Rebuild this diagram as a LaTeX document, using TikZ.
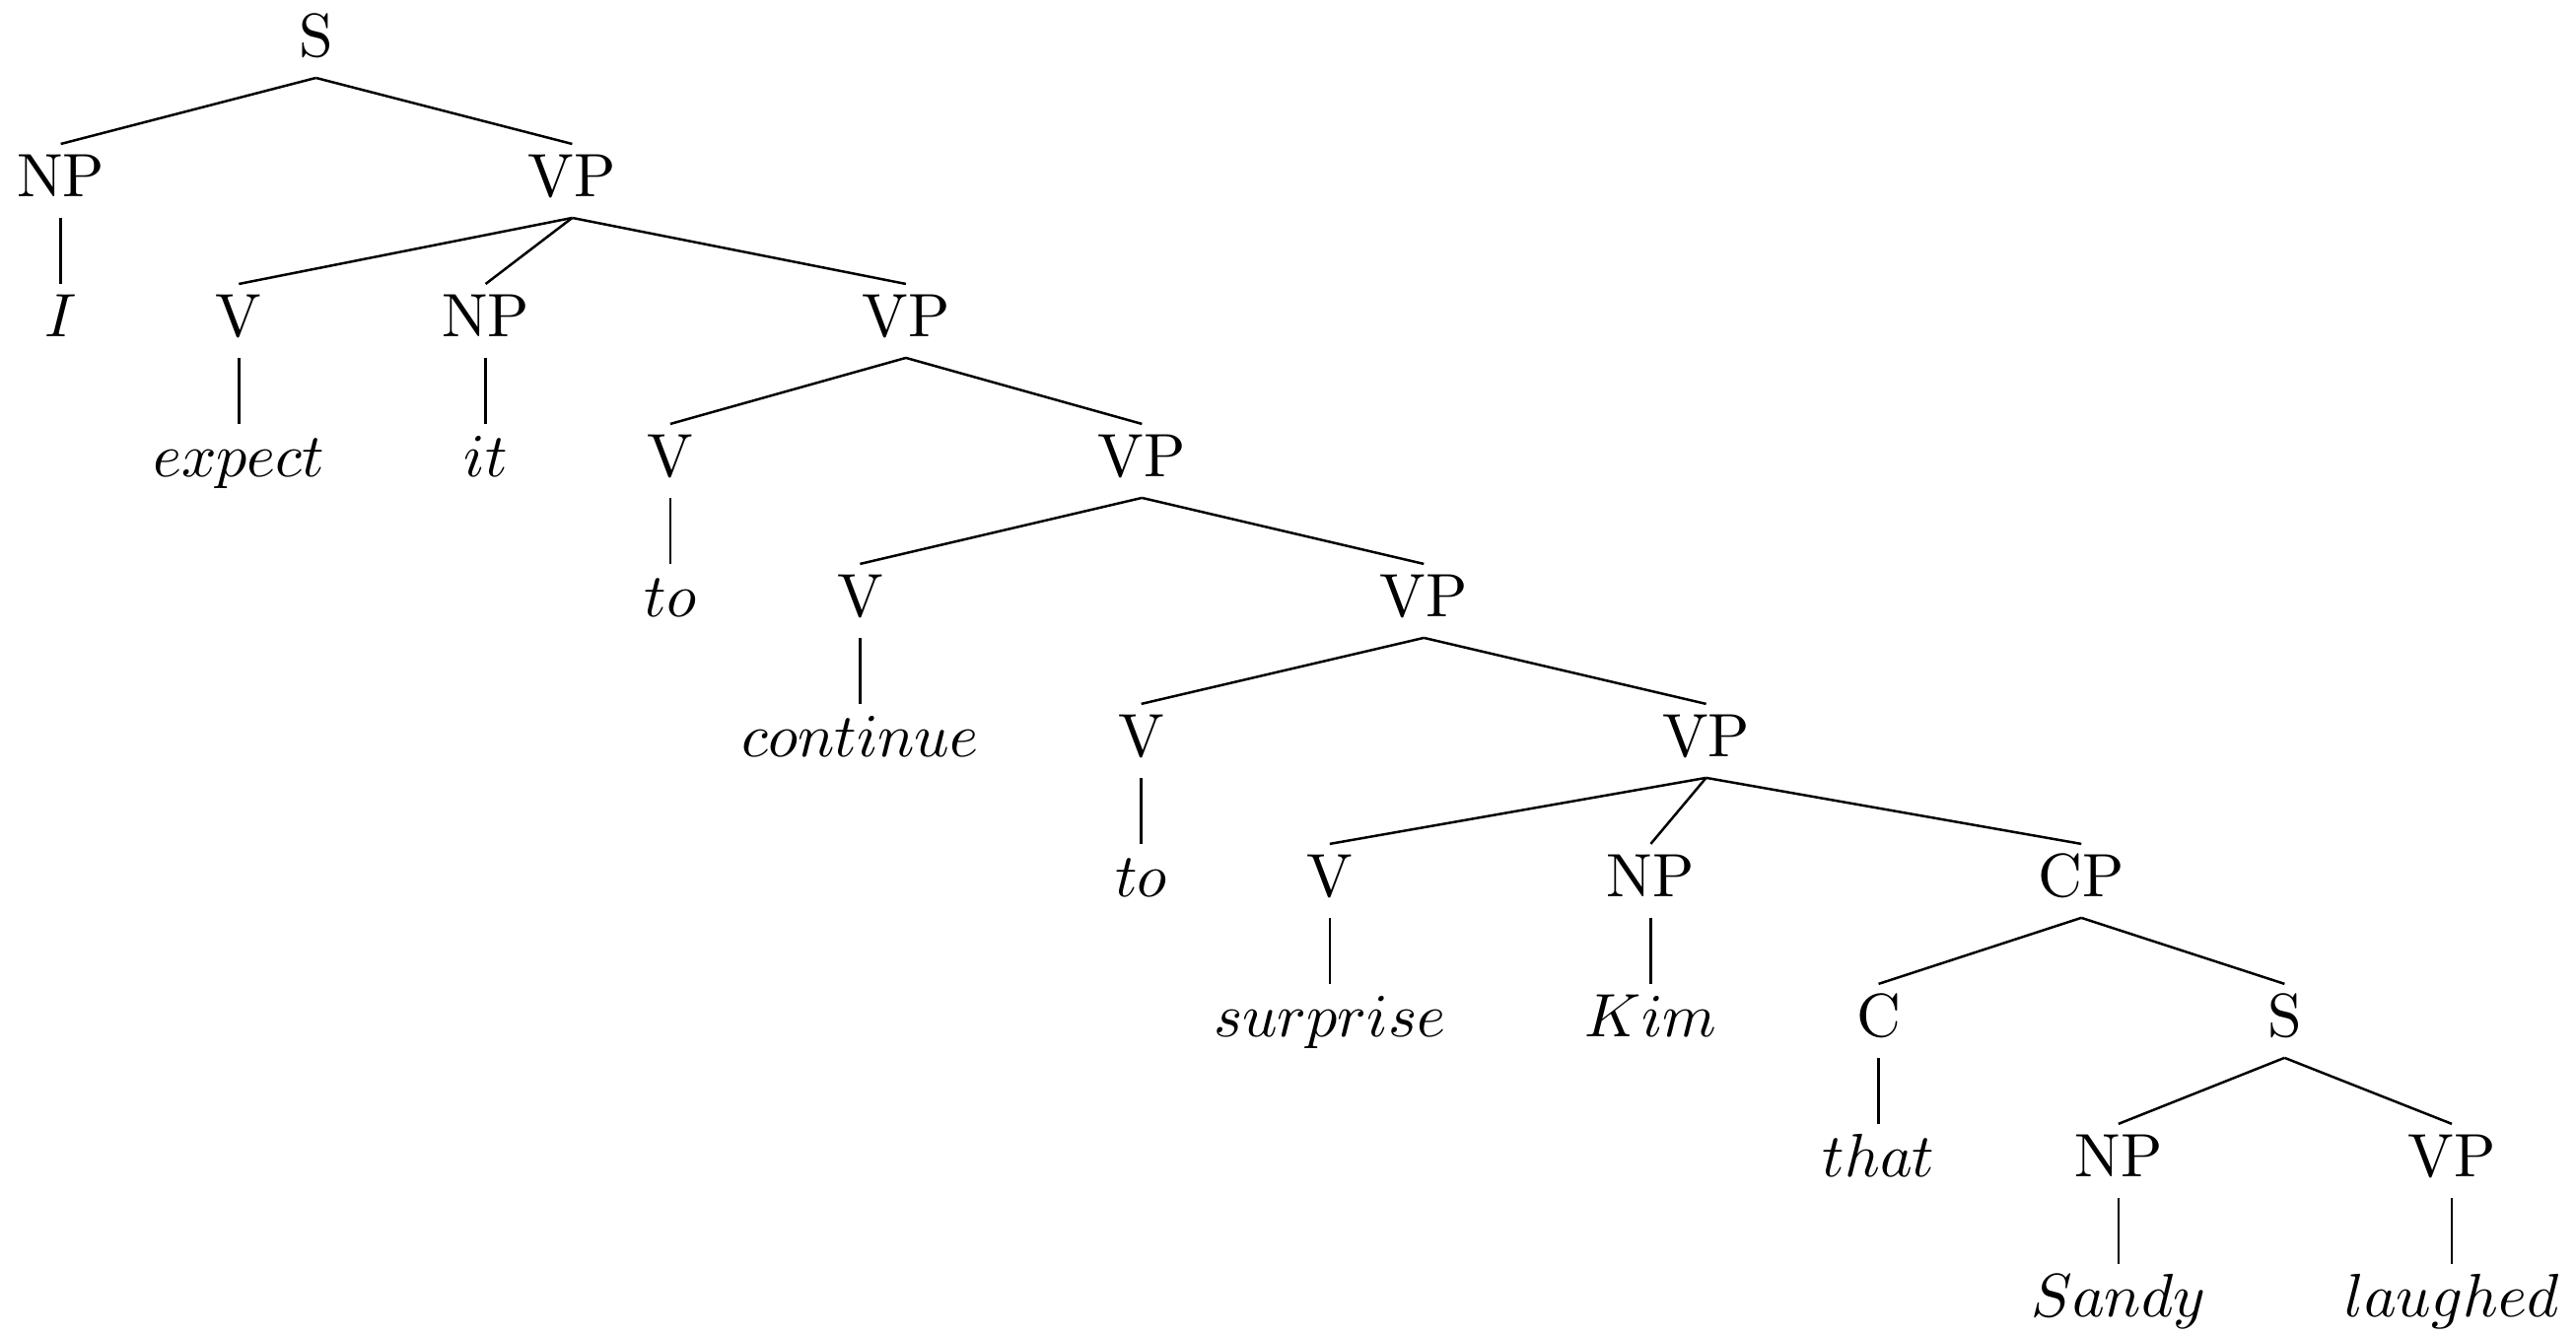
\documentclass[tikz,border=0pt]{standalone}
\begin{document}
\begin{tikzpicture}[x=0.2681pt,y=-0.2681pt,
  lbl/.style={inner sep=0pt,outer sep=0pt,anchor=base,text height=8.66pt,text depth=3.40pt},
  br/.style={line width=0.4pt}]
\useasboundingbox (0,0) rectangle (1568,813);
% levels: baseline = 34.7 + 85.2k
\node[lbl] (S)   at (192.3,34.7) {S};
\node[lbl] (NP1) at (37,119.9) {NP};
\node[lbl] (VP1) at (348.3,119.9) {VP};
\node[lbl] (I)   at (37,205.1) {$I$};
\node[lbl] (V1)  at (145.4,205.1) {V};
\node[lbl] (NP2) at (295.6,205.1) {NP};
\node[lbl] (VP2) at (551.4,205.1) {VP};
\node[lbl] (expect) at (145.4,290.3) {$expect$};
\node[lbl] (it)  at (295.6,290.3) {$it$};
\node[lbl] (V2)  at (408,290.3) {V};
\node[lbl] (VP3) at (695.1,290.3) {VP};
\node[lbl] (to1) at (408,375.5) {$to$};
\node[lbl] (V3)  at (523.5,375.5) {V};
\node[lbl] (VP4) at (866.7,375.5) {VP};
\node[lbl] (continue) at (523.5,460.7) {$continue$};
\node[lbl] (V4)  at (694.7,460.7) {V};
\node[lbl] (VP5) at (1038.5,460.7) {VP};
\node[lbl] (to2) at (694.7,545.9) {$to$};
\node[lbl] (V5)  at (809.4,545.9) {V};
\node[lbl] (NP3) at (1004.8,545.9) {NP};
\node[lbl] (CP)  at (1266.9,545.9) {CP};
\node[lbl] (surprise) at (809.4,631.1) {$surprise$};
\node[lbl] (Kim) at (1004.8,631.1) {$Kim$};
\node[lbl] (C)   at (1143.5,631.1) {C};
\node[lbl] (S2)  at (1390.6,631.1) {S};
\node[lbl] (that) at (1143.5,716.3) {$that$};
\node[lbl] (NP4) at (1289.5,716.3) {NP};
\node[lbl] (VP6) at (1492.4,716.3) {VP};
\node[lbl] (Sandy) at (1289.5,801.5) {$Sandy$};
\node[lbl] (laughed) at (1492.4,801.5) {$laughed$};
\foreach \p/\c in {S/NP1,S/VP1,NP1/I,VP1/V1,VP1/NP2,VP1/VP2,V1/expect,NP2/it,
  VP2/V2,VP2/VP3,V2/to1,VP3/V3,VP3/VP4,V3/continue,VP4/V4,VP4/VP5,V4/to2,
  VP5/V5,VP5/NP3,VP5/CP,V5/surprise,NP3/Kim,CP/C,CP/S2,C/that,S2/NP4,S2/VP6,
  NP4/Sandy,VP6/laughed}
  \draw[br] (\p.south) -- (\c.north);
\end{tikzpicture}
\end{document}
